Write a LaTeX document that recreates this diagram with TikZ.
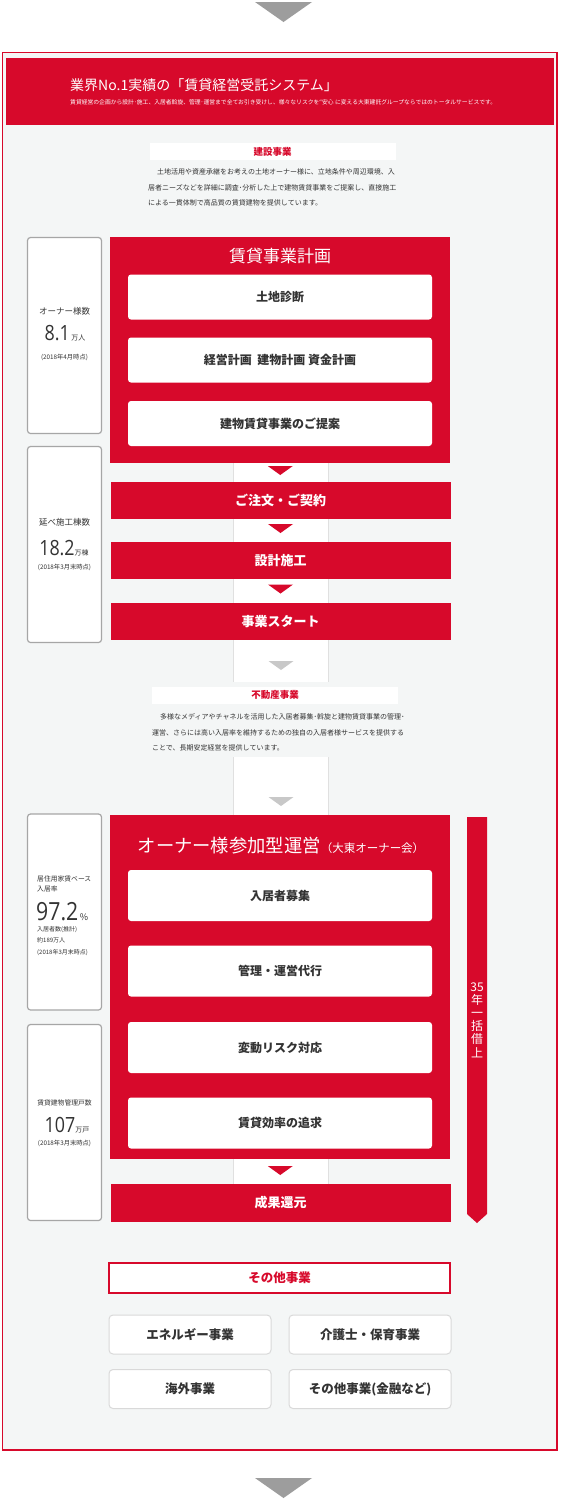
\documentclass[tikz,border=0pt]{standalone}
\usepackage{fontspec}
\setmainfont{Noto Sans CJK JP}
\newfontfamily\numfont[FakeStretch=0.85]{Open Sans}
\usetikzlibrary{calc}

\definecolor{brand}{HTML}{D7092B}
\definecolor{paper}{HTML}{F4F6F6}
\definecolor{markgray}{HTML}{9D9D9D}
\definecolor{colgray}{HTML}{C8C8C8}
\definecolor{ink}{HTML}{333333}
\newcommand{\sz}[1]{\fontsize{#1}{#1}\selectfont}

\tikzset{
  band/.style={fill=brand, text=white, minimum width=340, minimum height=37, inner sep=0, font=\sz{13}\bfseries},
  phase/.style={fill=brand, minimum width=340, inner sep=0},
  plan/.style={fill=white, rounded corners=3, minimum width=304, inner sep=0, text=ink, font=\sz{12}\bfseries},
  stat/.style={draw=black!35, line width=1.2, fill=white, rounded corners=3, minimum width=74, minimum height=196, inner sep=0},
  sechead/.style={fill=white, text=brand, minimum width=246, minimum height=17, inner sep=0, font=\sz{9.5}\bfseries},
  other/.style={fill=white, draw=black!15, line width=1, rounded corners=4, minimum width=162, minimum height=39, inner sep=0, text=ink, font=\sz{12.5}\bfseries},
  para/.style={anchor=north west, align=left, inner sep=0, text=ink, font=\fontsize{7}{15.5}\selectfont},
  pics/downtri/.style={code={\fill[#1] (-12.5,-4.5) -- (12.5,-4.5) -- (0,4.5) -- cycle;}}
}

\begin{document}
\begin{tikzpicture}[x=1pt, y=-1pt]
\useasboundingbox[fill=white] (0,0) rectangle (560,1500);
\fill[markgray] (255,2) -- (312,2) -- (283.5,22) -- cycle;
\draw[brand, line width=1.5, fill=paper] (2.5,52.5) rectangle (557,1450);
\fill[brand] (5.5,58) rectangle (554,125);
\node[anchor=west, inner sep=0, text=white, font=\sz{14}] (headline) at (70,85) {業界No.1実績の「賃貸経営受託システム」};
\node[anchor=west, inner sep=0, text=white, font=\sz{5.8}] (subline) at (70,102) {賃貸経営の企画から設計･施工、入居者斡旋、管理･運営まで全てお引き受けし、様々なリスクを“安心 に変える大東建託グループならではのトータルサービスです。};

\node[sechead] (build) at (272.5,151.5) {建設事業};
\node[para] (buildtext) at (148,168.5) {\hspace*{9pt}土地活用や資産承継をお考えの土地オーナー様に、立地条件や周辺環境、入\\居者ニーズなどを詳細に調査･分析した上で建物賃貸事業をご提案し、直接施工\\による一貫体制で高品質の賃貸建物を提供しています。};

\fill[white] (233,463) rectangle (328,682);
\fill[white] (233,757) rectangle (328,815);
\fill[white] (233,1159) rectangle (328,1184);
\draw[black!12, line width=1] (233,463) -- (233,682) (328,463) -- (328,682);
\draw[black!12, line width=1] (233,757) -- (233,815) (328,757) -- (328,815);
\draw[black!12, line width=1] (233,1159) -- (233,1184) (328,1159) -- (328,1184);

\node[stat] (owners) at (64.5,335.5) {};
\node[font=\sz{8.5}, text=ink] at (64.5,311) {オーナー様数};
\node[text=ink, anchor=base] at (65,340) {{\numfont\sz{21}8.1}\,{\sz{7}万人}};
\node[font=\sz{6.3}, text=ink] at (64.5,357) {(2018年4月時点)};

\node[stat] (builds) at (64.5,544.5) {};
\node[font=\sz{8.5}, text=ink] at (64.5,522) {延べ施工棟数};
\node[text=ink, anchor=base] at (64,555) {{\numfont\sz{21}18.2}{\sz{7}万棟}};
\node[font=\sz{6.3}, text=ink] at (64.5,567) {(2018年3月末時点)};

\node[phase, minimum height=226] (plan) at (280,350) {};
\node[text=white, font=\sz{17}] (plantitle) at (280,256) {賃貸事業計画};
\node[plan, minimum height=45] (land) at (280,297) {土地診断};
\node[plan, minimum height=45] (budget) at (280,360) {経営計画\ \ 建物計画\ 資金計画};
\node[plan, minimum height=45] (offer) at (280,423.5) {建物賃貸事業のご提案};
\pic at ($(land.south)!.5!(budget.north)$) {downtri=brand};
\pic at ($(budget.south)!.5!(offer.north)$) {downtri=brand};

\node[band] (order) at (280.5,500.5) {ご注文・ご契約};
\node[band] (construct) at (280.5,560.5) {設計施工};
\node[band] (launch) at (280.5,621.5) {事業スタート};
\pic at ($(plan.south)!.5!(order.north)+(0,-2)$) {downtri=brand};
\pic at ($(order.south)!.5!(construct.north)+(0,-2)$) {downtri=brand};
\pic at ($(construct.south)!.5!(launch.north)+(0,-2)$) {downtri=brand};
\pic at (281,665.5) {downtri=colgray};

\node[sechead] (estate) at (275,695) {不動産事業};
\node[para] (estatetext) at (152,713.5) {\hspace*{8pt}多様なメディアやチャネルを活用した入居者募集･斡旋と建物賃貸事業の管理･\\運営、さらには高い入居率を維持するための独自の入居者様サービスを提供する\\ことで、長期安定経営を提供しています。};
\pic at (281,801.5) {downtri=colgray};

\node[stat] (occupancy) at (64.5,912) {};
\node[anchor=west, font=\fontsize{6.8}{9.5}\selectfont, text=ink, align=left, inner sep=0] at (37,884) {居住用家賃ベース\\入居率};
\node[anchor=base west, text=ink, inner sep=0] at (36,920) {{\numfont\sz{25}97.2}\,{\sz{9}\%}};
\node[anchor=west, font=\fontsize{6}{11.5}\selectfont, text=ink, align=left, inner sep=0] at (37,941) {入居者数(推計)\\約189万人\\(2018年3月末時点)};

\node[stat] (units) at (64.5,1122.5) {};
\node[font=\sz{6.8}, text=ink] at (64.5,1103) {賃貸建物管理戸数};
\node[text=ink, anchor=base] at (67,1132) {{\numfont\sz{21}107}{\sz{7}万戸}};
\node[font=\sz{6.3}, text=ink] at (64.5,1143) {(2018年3月末時点)};

\node[phase, minimum height=344] (manage) at (280,987) {};
\node[text=white] (managetitle) at (281,846) {{\sz{18.3}オーナー様参加型運営}{\sz{11.5}（大東オーナー会）}};
\node[plan, minimum height=51] (tenant) at (280,895.5) {入居者募集};
\node[plan, minimum height=51] (agency) at (280,971) {管理・運営代行};
\node[plan, minimum height=51] (risk) at (280,1047.5) {変動リスク対応};
\node[plan, minimum height=51] (yield) at (280,1123) {賃貸効率の追求};
\pic at ($(tenant.south)!.5!(agency.north)+(0,-1)$) {downtri=brand};
\pic at ($(agency.south)!.5!(risk.north)+(0,-1)$) {downtri=brand};
\pic at ($(risk.south)!.5!(yield.north)+(0,-1)$) {downtri=brand};

\node[band, minimum height=38] (return) at (280.5,1203) {成果還元};
\pic at ($(manage.south)!.5!(return.north)+(0,-1)$) {downtri=brand};

\fill[brand] (467,817) -- (487,817) -- (487,1214) -- (477,1223) -- (467,1214) -- cycle;
\node[text=white, align=center, inner sep=0, font=\fontsize{12}{13.2}\selectfont] (lease) at (477,1020) {35\\年\\一\\括\\借\\上};

\node[draw=brand, line width=1.2, fill=white, text=brand, minimum width=341, minimum height=30, inner sep=0, font=\sz{12.5}\bfseries] (others) at (279.5,1278) {その他事業};
\node[other] (energy) at (190,1334.5) {エネルギー事業};
\node[other] (care) at (370,1334.5) {介護士・保育事業};
\node[other] (overseas) at (190,1389) {海外事業};
\node[other] (finance) at (370,1389) {その他事業(金融など)};

\fill[markgray] (255,1478) -- (312,1478) -- (283.5,1498) -- cycle;
\end{tikzpicture}
\end{document}
